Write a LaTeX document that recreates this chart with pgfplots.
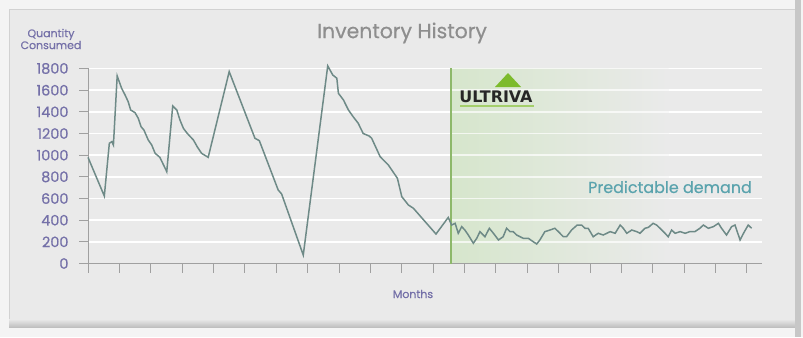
\documentclass[border=0pt]{standalone}
\usepackage{pgfplots}
\pgfplotsset{compat=1.18}
\usepackage{fontspec}
\setmainfont{Poppins}[FakeBold=0.5]
\newfontfamily\logofont{DejaVu Sans}
\definecolor{outerbg}{HTML}{F4F4F4}
\definecolor{panelbg}{HTML}{EAEAEA}
\definecolor{panelborder}{HTML}{D2D2D2}
\definecolor{axisgray}{HTML}{A0A0A0}
\definecolor{labelpurple}{HTML}{7470A8}
\definecolor{titlegray}{HTML}{8E8E8E}
\definecolor{linecol}{HTML}{6E8A87}
\definecolor{teal}{HTML}{5AA3AD}
\definecolor{lightgreen}{HTML}{D6E6CC}
\definecolor{vgreen}{HTML}{8DB86A}
\definecolor{logogreen}{HTML}{7DBB2C}
\pgfplotstableread{
x y
0.00 980
0.52 623
0.68 1110
0.76 1125
0.81 1094
0.93 1731
1.07 1618
1.18 1556
1.28 1494
1.36 1417
1.50 1392
1.60 1341
1.69 1263
1.78 1233
1.92 1140
2.03 1094
2.14 1017
2.29 980
2.51 848
2.70 1454
2.83 1417
2.93 1325
3.04 1248
3.16 1202
3.36 1140
3.48 1078
3.62 1017
3.83 980
4.50 1771
5.32 1156
5.46 1134
6.06 679
6.17 642
6.86 78
7.64 1824
7.80 1740
7.93 1710
7.98 1571
8.14 1510
8.30 1417
8.45 1355
8.61 1295
8.77 1200
8.96 1177
9.04 1156
9.31 986
9.57 910
9.86 787
10.00 617
10.21 540
10.37 510
10.79 371
11.09 272
11.48 425
11.59 355
11.70 371
11.80 279
11.91 340
12.01 309
12.12 263
12.28 187
12.39 233
12.49 294
12.65 247
12.79 325
12.92 279
13.08 217
13.23 247
13.34 325
13.45 294
13.55 294
13.66 263
13.77 247
13.87 233
14.03 233
14.19 201
14.30 180
14.40 217
14.56 294
14.72 309
14.88 325
14.99 294
15.15 247
15.25 247
15.41 309
15.59 355
15.73 355
15.84 325
15.94 325
16.10 247
16.26 279
16.42 263
16.64 294
16.80 279
16.96 355
17.06 325
17.17 279
17.33 309
17.49 294
17.59 279
17.75 325
17.86 334
18.01 371
18.12 355
18.23 325
18.39 279
18.49 247
18.60 309
18.71 279
18.87 294
19.03 279
19.18 294
19.34 294
19.50 325
19.61 355
19.77 325
19.93 340
20.09 371
20.19 325
20.35 263
20.51 340
20.62 355
20.78 217
20.90 284
21.04 355
21.15 325
}\inventory
\begin{document}
\begin{tikzpicture}[x=1bp,y=1bp]
\fill[outerbg] (0,0) rectangle (803,337);
\useasboundingbox (0,0) rectangle (803,337);
% panel
\fill[panelbg] (9,10) rectangle (795,327);
\draw[panelborder, line width=1bp] (9,10) rectangle (795,327);
\shade[top color=panelbg, bottom color=black!25] (9,10) rectangle (795,18);
\fill[black!22] (795,0) rectangle (801,337);
\begin{axis}[
  at={(88bp,73.5bp)}, anchor=south west,
  scale only axis, width=674bp, height=195bp,
  xmin=0, xmax=21.48, ymin=0, ymax=1800,
  clip=false,
  axis x line*=bottom, axis y line*=left,
  axis line style={axisgray, line width=1bp, -},
  xtick={0,1,...,21}, xticklabels={},
  ytick={0,200,...,1800},
  tick align=outside, major tick length=9bp,
  tick style={axisgray, line width=1bp},
  ymajorgrids,
  grid style={white, line width=1.8bp},
  yticklabel style={font=\fontsize{14.5}{15}\selectfont, text=labelpurple, xshift=-7bp},
  /pgf/number format/assume math mode=true,
  /pgf/number format/1000 sep={},
]
\shade[left color=lightgreen, right color=panelbg] (axis cs:11.57,12) rectangle (axis cs:18.5,1800);
\pgfplotsinvokeforeach{200,400,...,1800}{
  \draw[white, line width=1.8bp, draw opacity=0.7] (axis cs:11.57,#1) -- (axis cs:21.48,#1);
}
\draw[vgreen, line width=1.2bp] (axis cs:11.57,0) -- (axis cs:11.57,1800);
\addplot[linecol, line width=1.5bp, mark=none] table[x=x, y=y] {\inventory};
\end{axis}
% texts
\node[text=titlegray, font=\fontsize{20.5}{22}\selectfont] at (402,304) {Inventory History};
\node[text=labelpurple, font=\fontsize{11}{10}\selectfont, align=center, inner sep=0pt] at (51,298) {Quantity\\Consumed};
\node[text=labelpurple, font=\fontsize{11}{12}\selectfont] at (413,43) {Months};
\node[text=teal, font=\fontsize{16}{18}\selectfont, anchor=east, inner sep=0pt] at (752,150) {Predictable demand};
% logo
\node[font=\logofont\bfseries\fontsize{16}{18}\selectfont, text=black!85, inner sep=0pt] at (496,240) {ULTRIVA};
\fill[logogreen] (495,250) -- (508,264) -- (521,250) -- cycle;
\draw[logogreen!70, line width=1.5bp] (460,231) -- (534,231);
\end{tikzpicture}
\end{document}
